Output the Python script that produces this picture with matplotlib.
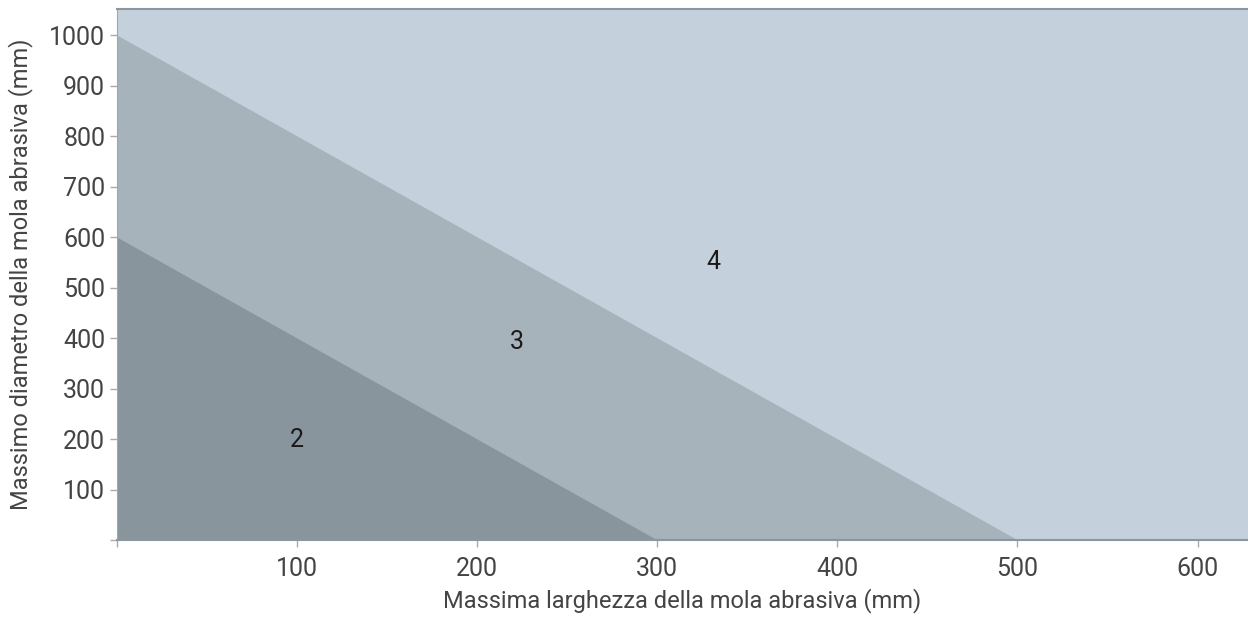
import matplotlib
matplotlib.use('Agg')
from matplotlib import pyplot as plt

# region boundaries (larghezza, diametro)
zone2_x = [0, 0, 300]
zone2_y = [0, 600, 0]
zone3_x = [0, 0, 500, 300]
zone3_y = [600, 1000, 0, 0]
zone_labels = ['2', '3', '4']
label_x = [100, 222, 331]
label_y = [198, 392, 550]

x_ticks = [0, 100, 200, 300, 400, 500, 600]
x_tick_labels = ['', '100', '200', '300', '400', '500', '600']
y_ticks = [0, 100, 200, 300, 400, 500, 600, 700, 800, 900, 1000]
y_tick_labels = [''] + [str(v) for v in y_ticks[1:]]

plt.rcParams['font.family'] = ['Roboto', 'DejaVu Sans']

fig = plt.figure(figsize=(12.48, 6.2), dpi=100)
ax = fig.add_axes([0.0937, 0.129, 1 - 0.0937, 0.9855 - 0.129])
ax.set_xlim(0, 628)
ax.set_ylim(0, 1052)
ax.set_facecolor('#c4d1dc')

ax.fill(zone3_x, zone3_y, color='#a6b3bb', lw=0)
ax.fill(zone2_x, zone2_y, color='#89959c', lw=0)

for t, x, y in zip(zone_labels, label_x, label_y):
    ax.text(x, y, t, ha='center', va='center', fontsize=18, color='#1a1a1a')

ax.set_xticks(x_ticks)
ax.set_xticklabels(x_tick_labels)
ax.set_yticks(y_ticks)
ax.set_yticklabels(y_tick_labels)
ax.tick_params(axis='both', colors='#aaaaaa', labelcolor='#444444',
               labelsize=18, length=5, width=1)
ax.tick_params(axis='x', pad=7)

ax.spines['right'].set_visible(False)
ax.spines['top'].set_color('#8a979f')
ax.spines['top'].set_linewidth(1.5)
ax.spines['left'].set_color('#a0a8ad')
ax.spines['bottom'].set_color('#8a979f')
ax.spines['bottom'].set_linewidth(1.5)

ax.set_xlabel('Massima larghezza della mola abrasiva (mm)', fontsize=17,
              color='#444444')
ax.xaxis.set_label_coords(0.5, -0.09)
ax.set_ylabel('Massimo diametro della mola abrasiva (mm)', fontsize=17,
              color='#444444')
ax.yaxis.set_label_coords(-0.074, 0.5)

fig.savefig('out.png', dpi=100)
